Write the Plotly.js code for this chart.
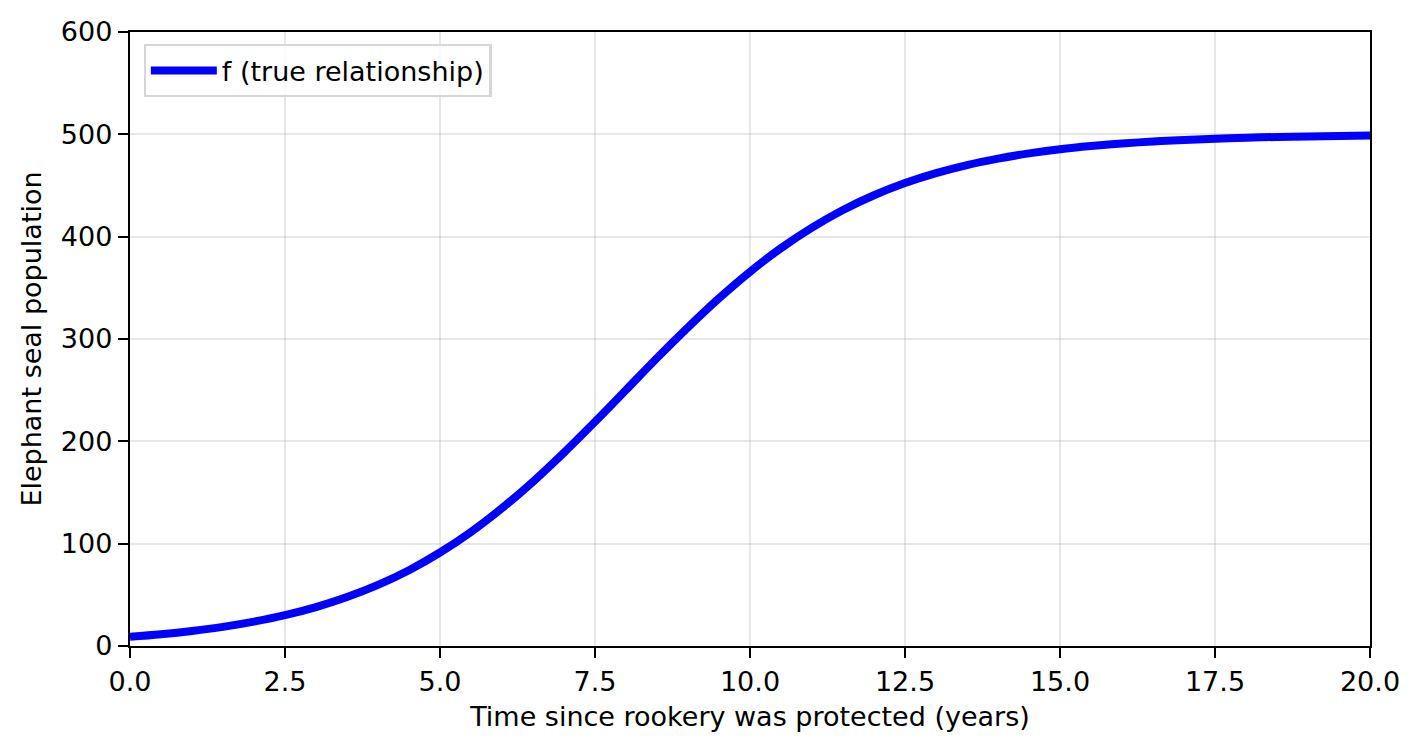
<!DOCTYPE html>
<html>
<head>
<meta charset="utf-8">
<script src="https://cdn.plot.ly/plotly-3.0.1.min.js"></script>
<style>html,body{margin:0;padding:0;background:#fff;}#chart{width:1422px;height:753px;}</style>
</head>
<body>
<div id="chart"></div>
<script>
const years = [0, 0.5, 1, 1.5, 2, 2.5, 3, 3.5, 4, 4.5, 5, 5.5, 6, 6.5, 7, 7.5, 8, 8.5, 9, 9.5, 10,
  10.5, 11, 11.5, 12, 12.5, 13, 13.5, 14, 14.5, 15, 15.5, 16, 16.5, 17, 17.5, 18, 18.5, 19, 19.5, 20];
const population = [9, 11.5, 14.7, 18.7, 23.8, 30.1, 38, 47.8, 59.7, 74.1, 91.4, 111.5, 134.7, 160.6, 189, 219.1,
  250.2, 281.4, 311.4, 339.8, 365.7, 388.8, 408.9, 426.1, 440.5, 452.4, 462.1, 470, 476.3, 481.4, 485.4,
  488.5, 491, 493, 494.5, 495.7, 496.7, 497.4, 498, 498.4, 498.8];
const seriesName = "f (true relationship)";
const xTitle = "Time since rookery was protected (years)";
const yTitle = "Elephant seal population";

const font = {family: "DejaVu Sans, sans-serif", size: 27, color: "#000"};
const axisCommon = {
  showline: true, mirror: true, linecolor: "#000", linewidth: 2.2,
  ticks: "outside", ticklen: 10, tickwidth: 2.2, tickcolor: "#000",
  showgrid: true, gridcolor: "rgba(176,176,176,0.3)", gridwidth: 2.2,
  zeroline: false, tickfont: font
};
const data = [{
  x: years, y: population, type: "scatter", mode: "lines", name: seriesName,
  line: {color: "#0000ff", width: 8, shape: "spline"}
}];
const layout = {
  width: 1422, height: 753,
  margin: {l: 130, r: 52, t: 32, b: 107},
  paper_bgcolor: "#fff", plot_bgcolor: "#fff",
  font: font,
  showlegend: true,
  legend: {x: 0.011, y: 0.98, xanchor: "left", yanchor: "top",
    bgcolor: "rgba(255,255,255,0.8)", bordercolor: "#d6d6d6", borderwidth: 2.2,
    itemwidth: 66, font: font},
  xaxis: Object.assign({}, axisCommon, {range: [0, 20], dtick: 2.5, tick0: 0, tickformat: ".1f",
    title: {text: xTitle, font: font, standoff: 12}}),
  yaxis: Object.assign({}, axisCommon, {range: [0, 600], dtick: 100, tick0: 0,
    title: {text: yTitle, font: font, standoff: 12}})
};
Plotly.newPlot("chart", data, layout, {displayModeBar: false, staticPlot: true});
</script>
</body>
</html>
